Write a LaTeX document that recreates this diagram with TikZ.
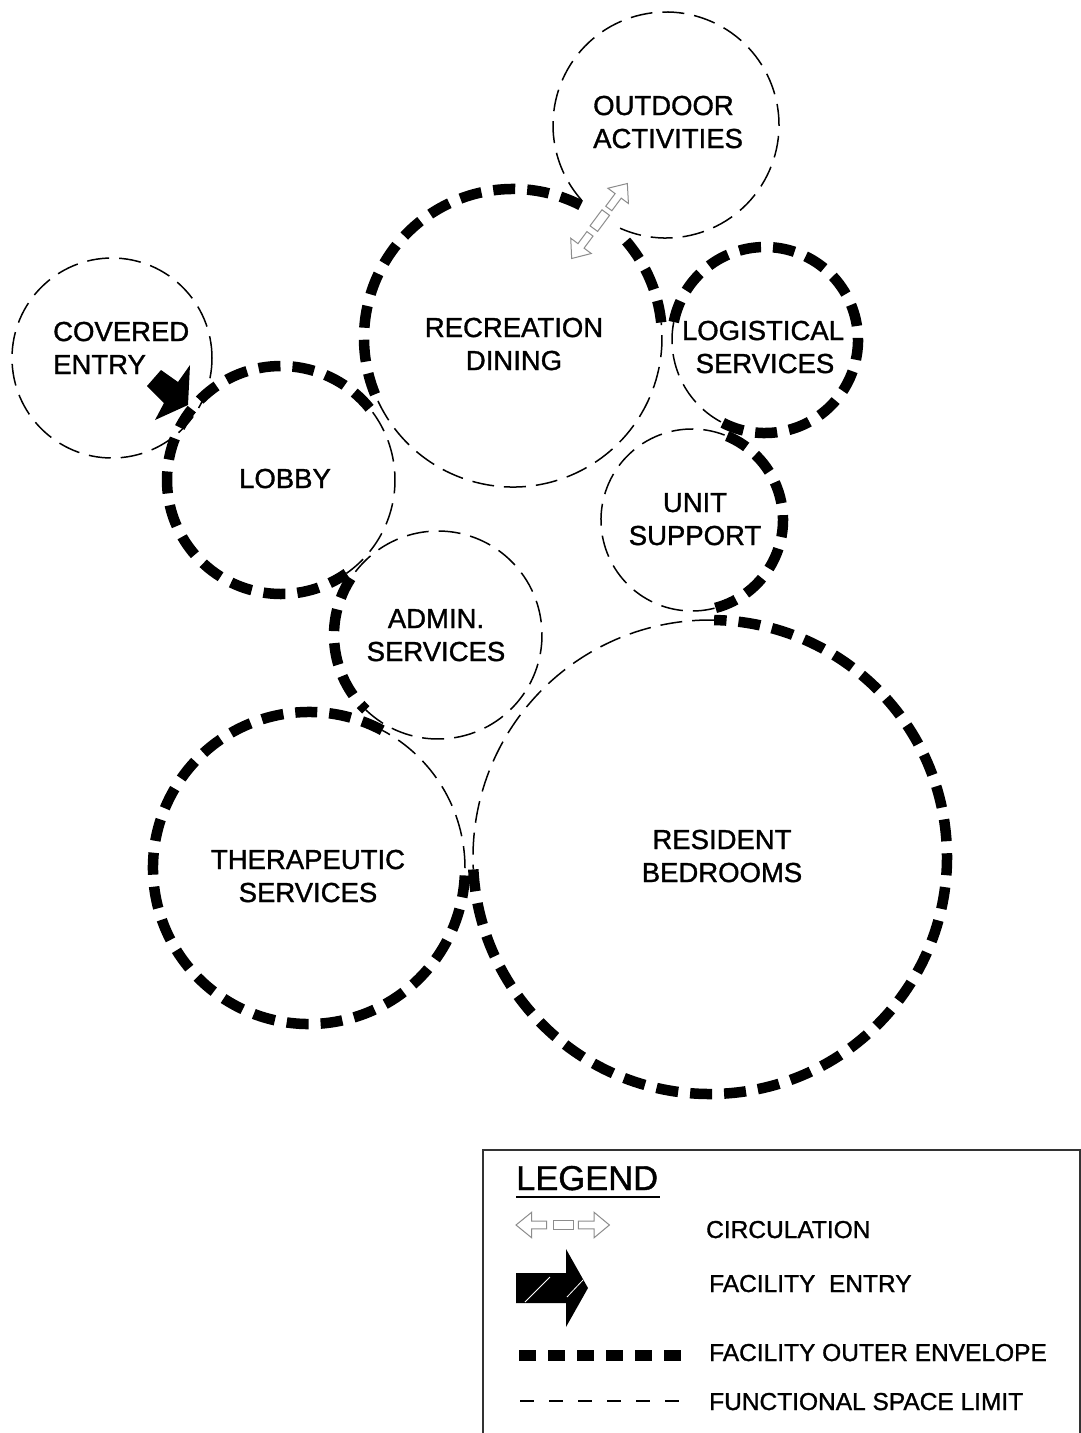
\documentclass[tikz,border=0pt]{standalone}
\usepackage{fontspec}
\setmainfont{Liberation Sans}
\newfontfamily\lblfont[FakeBold=1.2]{Liberation Sans}
\newcommand{\myarc}[5]{\draw[#1] (#2) ++(#3:#5) arc[start angle=#3, end angle=#4, radius=#5];}
\begin{document}
\begin{tikzpicture}[x=1pt,y=1pt]
\tikzset{
 env/.style={line width=10.5pt, dash pattern=on 22pt off 12pt},
 lim/.style={line width=1.5pt, dash pattern=on 22pt off 10pt},
 lbl/.style={font=\lblfont\fontsize{27.5}{33}\selectfont, inner sep=0pt, anchor=base},
 leg/.style={font=\lblfont\fontsize{24.5}{30}\selectfont, inner sep=0pt, anchor=base west},
 circline/.style={draw=black!45, line width=1pt, fill=white},
 circsym/.pic={
  \draw[circline] (-46.7,0) -- (-31,12.8) -- (-31,3.8) -- (-16,3.8) -- (-16,-3.8) -- (-31,-3.8) -- (-31,-12.8) -- cycle;
  \draw[circline] (-9.5,-4.7) rectangle (10.5,4.7);
  \draw[circline] (46.7,0) -- (31.3,12.8) -- (31.3,3.8) -- (15.6,3.8) -- (15.6,-3.8) -- (31.3,-3.8) -- (31.3,-12.8) -- cycle;
 }
}
\useasboundingbox (0,0) rectangle (1081,-1433);
\fill[white] (0,0) rectangle (1081,-1433);

% circle centres
\coordinate (cOut) at (666,-125);
\coordinate (cRec) at (513,-338);
\coordinate (cLog) at (765,-340);
\coordinate (cCov) at (112,-358);
\coordinate (cLob) at (281,-480);
\coordinate (cUni) at (692,-520);
\coordinate (cAdm) at (438,-635);
\coordinate (cThe) at (309,-868);
\coordinate (cRes) at (710,-857);

% outdoor activities
\myarc{lim}{cOut}{246}{583}{113}
% recreation dining
\myarc{env}{cRec}{6}{44}{149}
\myarc{env}{cRec}{63}{205}{149}
\myarc{lim}{cRec}{205}{366}{149}
% logistical services
\myarc{env}{cLog}{243}{529}{93}
\myarc{lim}{cLog}{169}{243}{93}
% covered entry
\draw[lim] (cCov) circle[radius=100];
% lobby
\myarc{env}{cLob}{39}{305}{114}
\myarc{lim}{cLob}{-55}{39}{114}
% unit support
\myarc{env}{cUni}{-75}{69}{91}
\myarc{lim}{cUni}{69}{285}{91}
% admin services
\myarc{env}{cAdm}{147}{226}{104}
\myarc{lim}{cAdm}{226}{507}{104}
% therapeutic services
\myarc{env}{cThe}{62}{360}{156}
\myarc{lim}{cThe}{0}{62}{156}
% resident bedrooms
\myarc{env}{cRes}{-177}{89}{237}
\myarc{lim}{cRes}{89}{183}{237}

% circulation between recreation and outdoor
\pic[rotate=53.4] (circA) at (599.5,-221) {circsym};
% facility entry arrow
\fill (147,-386) -- (161,-370) -- (178,-382) -- (190,-365) -- (188,-405) -- (155,-420) -- (164,-403) -- cycle;

% labels
\node[lbl, anchor=base west] (outA) at (593,-115) {OUTDOOR};
\node[lbl, anchor=base west] (outB) at (593,-148) {ACTIVITIES};
\node[lbl, anchor=base west] (covA) at (53,-341) {COVERED};
\node[lbl, anchor=base west] (covB) at (53,-374) {ENTRY};
\node[lbl] (recA) at (514,-337) {RECREATION};
\node[lbl] (recB) at (514,-370) {DINING};
\node[lbl] (logA) at (763,-340) {LOGISTICAL};
\node[lbl] (logB) at (765,-373) {SERVICES};
\node[lbl] (lob) at (285,-488) {LOBBY};
\node[lbl] (uniA) at (695,-512) {UNIT};
\node[lbl] (uniB) at (695,-545) {SUPPORT};
\node[lbl] (admA) at (436,-628) {ADMIN.};
\node[lbl] (admB) at (436,-661) {SERVICES};
\node[lbl] (theA) at (308,-869) {THERAPEUTIC};
\node[lbl] (theB) at (308,-902) {SERVICES};
\node[lbl] (resA) at (722,-849) {RESIDENT};
\node[lbl] (resB) at (722,-882) {BEDROOMS};

% legend
\draw[line width=1.4pt, draw=black!80] (483,-1440) -- (483,-1150) -- (1080,-1150) -- (1080,-1440);
\node[font=\lblfont\fontsize{34.5}{40}\selectfont, inner sep=0pt, anchor=base west] (legT) at (516,-1190) {LEGEND};
\draw[line width=2pt] (516,-1197) -- (660,-1197);
\pic (circL) at (562.7,-1225) {circsym};
\fill (516,-1273) -- (566,-1273) -- (566,-1249) -- (588,-1288) -- (566,-1327) -- (566,-1303) -- (516,-1303) -- cycle;
\draw[white, line width=0.8pt] (525,-1302) -- (550,-1277);
\draw[white, line width=0.8pt] (567,-1297) -- (583,-1280);
\draw[line width=11pt, dash pattern=on 17pt off 12pt] (519,-1355) -- (681,-1355);
\draw[line width=1.4pt, dash pattern=on 14pt off 15pt] (520,-1401) -- (679,-1401);
\node[leg] (legA) at (706,-1238) {CIRCULATION};
\node[leg] (legB) at (709,-1292) {FACILITY\ \ ENTRY};
\node[leg] (legC) at (709,-1361) {FACILITY OUTER ENVELOPE};
\node[leg] (legD) at (709,-1410) {FUNCTIONAL SPACE LIMIT};
\end{tikzpicture}
\end{document}
